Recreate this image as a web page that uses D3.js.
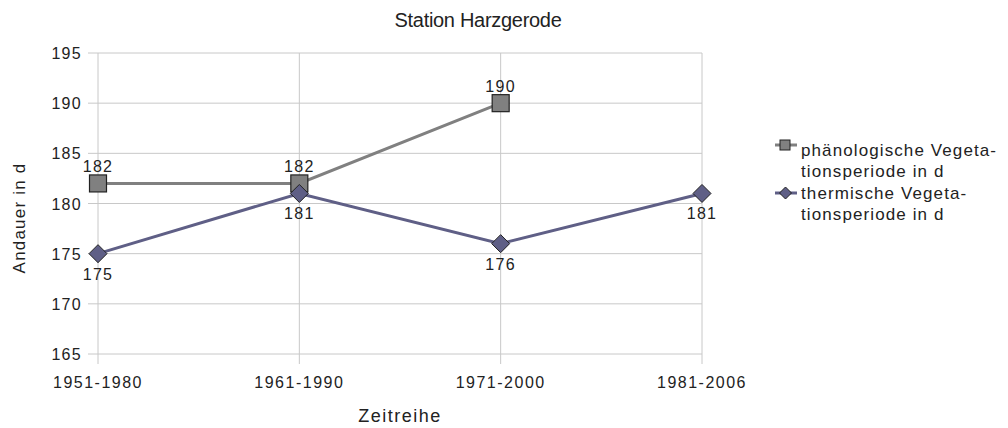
<!DOCTYPE html>
<html>
<head>
<meta charset="utf-8">
<script src="https://cdn.jsdelivr.net/npm/d3@7"></script>
<style>
  body { margin: 0; background: #fff; }
  text { font-family: "Liberation Sans", Arial, sans-serif; fill: #222; }
</style>
</head>
<body>
<svg width="1008" height="428"></svg>
<script>
// Station Harzgerode - Vegetationsperiode
var categories = ["1951-1980", "1961-1990", "1971-2000", "1981-2006"];
var phaeno = [182, 182, 190, null];
var thermisch = [175, 181, 176, 181];
var yTicks = [165, 170, 175, 180, 185, 190, 195];
var seriesNames = [["phänologische Vegeta-", "tionsperiode in d"], ["thermische Vegeta-", "tionsperiode in d"]];

var svg = d3.select("svg");

var x = d3.scalePoint().domain(categories).range([98, 702]);
var y = d3.scaleLinear().domain([165, 195]).range([354, 53]);

// grid
svg.append("g").selectAll("line").data(yTicks)
  .enter().append("line")
  .attr("x1", 88).attr("x2", 702)
  .attr("y1", d => y(d)).attr("y2", d => y(d))
  .attr("stroke", "#c8c8c8").attr("stroke-width", 1);

svg.append("g").selectAll("line").data(categories)
  .enter().append("line")
  .attr("x1", d => x(d)).attr("x2", d => x(d))
  .attr("y1", y(195)).attr("y2", y(165) + 10)
  .attr("stroke", "#c8c8c8").attr("stroke-width", 1);

// y tick labels
svg.append("g").selectAll("text").data(yTicks)
  .enter().append("text")
  .attr("x", 82).attr("y", d => y(d) + 6)
  .attr("text-anchor", "end")
  .style("font-size", "16px").style("letter-spacing", "1.3px")
  .text(d => d);

// x tick labels
svg.append("g").selectAll("text").data(categories)
  .enter().append("text")
  .attr("x", d => x(d)).attr("y", 388)
  .attr("text-anchor", "middle")
  .style("font-size", "16px").style("letter-spacing", "1.5px")
  .text(d => d);

// titles
svg.append("text").attr("x", 478).attr("y", 27).attr("text-anchor", "middle")
  .style("font-size", "20px").style("letter-spacing", "-0.3px").text("Station Harzgerode");
svg.append("text").attr("x", 400).attr("y", 422).attr("text-anchor", "middle")
  .style("font-size", "18px").style("letter-spacing", "1.5px").text("Zeitreihe");
svg.append("text").attr("transform", "translate(25,218) rotate(-90)").attr("text-anchor", "middle")
  .style("font-size", "17px").style("letter-spacing", "1.2px").text("Andauer in d");

var grayCol = "#808080", blueCol = "#5f5f86";

var line = d3.line()
  .defined(d => d.v != null)
  .x(d => x(d.c)).y(d => y(d.v));

var pData = categories.map((c, i) => ({c: c, v: phaeno[i]}));
var tData = categories.map((c, i) => ({c: c, v: thermisch[i]}));

svg.append("path").datum(pData).attr("d", line)
  .attr("fill", "none").attr("stroke", grayCol).attr("stroke-width", 3);

svg.append("g").selectAll("rect").data(pData.filter(d => d.v != null))
  .enter().append("rect")
  .attr("x", d => x(d.c) - 8.5).attr("y", d => y(d.v) - 8.5)
  .attr("width", 17).attr("height", 17)
  .attr("fill", grayCol).attr("stroke", "#222").attr("stroke-width", 1.2);

svg.append("path").datum(tData).attr("d", line)
  .attr("fill", "none").attr("stroke", blueCol).attr("stroke-width", 3);

var diamond = "M0,-9L9,0L0,9L-9,0Z";
svg.append("g").selectAll("path").data(tData)
  .enter().append("path")
  .attr("transform", d => "translate(" + x(d.c) + "," + y(d.v) + ")")
  .attr("d", diamond)
  .attr("fill", blueCol).attr("stroke", "#222").attr("stroke-width", 1);

// value labels
svg.append("g").selectAll("text").data(pData.filter(d => d.v != null))
  .enter().append("text")
  .attr("x", d => x(d.c)).attr("y", d => y(d.v) - 11)
  .attr("text-anchor", "middle").style("font-size", "16px").style("letter-spacing", "1.3px")
  .text(d => d.v);

svg.append("g").selectAll("text").data(tData)
  .enter().append("text")
  .attr("x", d => x(d.c)).attr("y", d => y(d.v) + 26)
  .attr("text-anchor", "middle").style("font-size", "16px").style("letter-spacing", "1.3px")
  .text(d => d.v);

// legend
var leg = svg.append("g");
leg.append("line").attr("x1", 775).attr("x2", 797).attr("y1", 145).attr("y2", 145)
  .attr("stroke", grayCol).attr("stroke-width", 3);
leg.append("rect").attr("x", 780).attr("y", 140).attr("width", 10).attr("height", 10)
  .attr("fill", grayCol).attr("stroke", "#222").attr("stroke-width", 1);
leg.append("line").attr("x1", 775).attr("x2", 797).attr("y1", 193).attr("y2", 193)
  .attr("stroke", blueCol).attr("stroke-width", 3);
leg.append("path").attr("transform", "translate(785.5,193)").attr("d", "M0,-6L6,0L0,6L-6,0Z")
  .attr("fill", blueCol).attr("stroke", "#222").attr("stroke-width", 1);

seriesNames.forEach(function(lines, i) {
  var t = leg.append("text").attr("x", 801).attr("y", 156 + i * 43)
    .style("font-size", "17px").style("letter-spacing", "1.1px");
  lines.forEach(function(s, j) {
    t.append("tspan").attr("x", 801).attr("dy", j ? 21 : 0).text(s);
  });
});
</script>
</body>
</html>
